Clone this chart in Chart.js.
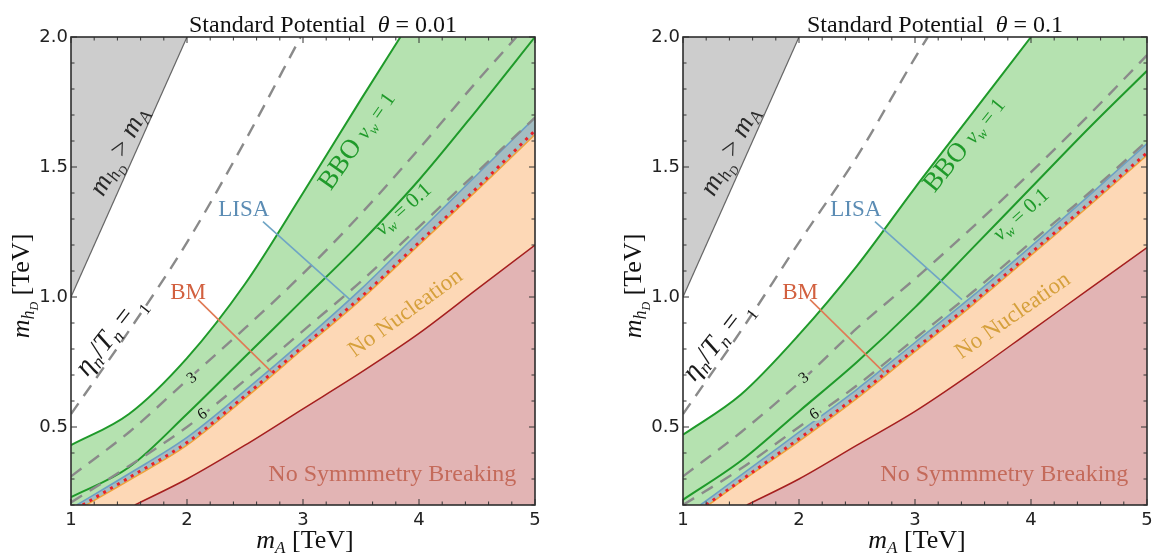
<!DOCTYPE html>
<html>
<head>
<meta charset="utf-8">
<script src="https://cdn.jsdelivr.net/npm/chart.js@4.4.1/dist/chart.umd.min.js"></script>
<style>
  html, body { margin: 0; padding: 0; background: #fff; }
  #wrap { position: relative; width: 1153px; height: 558px; }
  canvas { position: absolute; left: 0; top: 0; }
</style>
</head>
<body>
<div id="wrap">
  <canvas id="left" width="1153" height="558"></canvas>
  <canvas id="right" width="1153" height="558"></canvas>
</div>
<script>
// ---- values (m_A, m_hD in TeV) ----
const xTicks = [1, 2, 3, 4, 5];
const yTicks = [0.5, 1.0, 1.5, 2.0];
const thetas = ['0.01', '0.1'];

// m_hD = m_A boundary
const diagX = [1, 2];
const diagY = [1, 2];

// theta = 0.01
const bboFastX1 = [1, 1.5, 2, 2.5, 3, 3.5, 3.84];
const bboFastY1 = [0.43, 0.55, 0.765, 1.05, 1.40, 1.76, 2.0];
const bboSlowX1 = [1, 1.5, 2, 2.5, 3, 3.5, 4, 4.5, 5];
const bboSlowY1 = [0.23, 0.345, 0.55, 0.77, 0.99, 1.21, 1.45, 1.72, 2.0];
const eta1X1 = [1, 1.5, 2, 2.5, 2.98];
const eta1Y1 = [0.55, 0.87, 1.21, 1.6, 2.0];
const eta3X1 = [1, 1.5, 2, 2.5, 3, 3.5, 4, 4.5, 4.84];
const eta3Y1 = [0.31, 0.48, 0.68, 0.88, 1.09, 1.32, 1.57, 1.83, 2.0];
const eta6X1 = [1, 1.5, 2, 2.5, 3, 3.5, 4, 4.5, 5];
const eta6Y1 = [0.21, 0.35, 0.5, 0.68, 0.87, 1.06, 1.27, 1.48, 1.69];
const lisaX1 = [1.05, 1.5, 2, 2.5, 3, 3.5, 4, 4.5, 5];
const lisaY1 = [0.2, 0.32, 0.46, 0.64, 0.83, 1.03, 1.25, 1.47, 1.69];
const bmX1 = [1.1, 1.5, 2, 2.5, 3, 3.5, 4, 4.5, 5];
const bmY1 = [0.2, 0.305, 0.44, 0.62, 0.81, 1.0, 1.21, 1.42, 1.64];
const nucX1 = [1.13, 1.5, 2, 2.5, 3, 3.5, 4, 4.5, 5];
const nucY1 = [0.2, 0.295, 0.43, 0.61, 0.80, 0.99, 1.2, 1.41, 1.625];
const nsbX1 = [1.55, 2, 2.5, 3, 3.5, 4, 4.5, 5];
const nsbY1 = [0.2, 0.3, 0.43, 0.57, 0.71, 0.86, 1.03, 1.2];

// theta = 0.1
const bboFastX2 = [1, 1.5, 2, 2.5, 3, 3.5, 4];
const bboFastY2 = [0.47, 0.625, 0.855, 1.12, 1.42, 1.71, 2.0];
const bboSlowX2 = [1, 1.5, 2, 2.5, 3, 3.5, 4, 4.5, 5];
const bboSlowY2 = [0.22, 0.37, 0.56, 0.75, 0.96, 1.19, 1.42, 1.65, 1.87];
const eta1X2 = [1, 1.5, 2, 2.5, 3, 3.11];
const eta1Y2 = [0.55, 0.87, 1.21, 1.54, 1.92, 2.0];
const eta3X2 = [1, 1.5, 2, 2.5, 3, 3.5, 4, 4.5, 5];
const eta3Y2 = [0.31, 0.48, 0.67, 0.88, 1.07, 1.27, 1.48, 1.7, 1.93];
const eta6X2 = [1, 1.5, 2, 2.5, 3, 3.5, 4, 4.5, 5];
const eta6Y2 = [0.2, 0.34, 0.5, 0.66, 0.84, 1.02, 1.21, 1.4, 1.6];
const lisaX2 = [1.15, 1.5, 2, 2.5, 3, 3.5, 4, 4.5, 5];
const lisaY2 = [0.2, 0.315, 0.48, 0.645, 0.825, 1.005, 1.195, 1.39, 1.59];
const bmX2 = [1.2, 1.5, 2, 2.5, 3, 3.5, 4, 4.5, 5];
const bmY2 = [0.2, 0.295, 0.455, 0.62, 0.80, 0.98, 1.17, 1.36, 1.555];
const nucX2 = [1.22, 1.5, 2, 2.5, 3, 3.5, 4, 4.5, 5];
const nucY2 = [0.2, 0.29, 0.445, 0.61, 0.79, 0.97, 1.16, 1.35, 1.545];
const nsbX2 = [1.55, 2, 2.5, 3, 3.5, 4, 4.5, 5];
const nsbY2 = [0.2, 0.3, 0.43, 0.56, 0.71, 0.87, 1.03, 1.19];

// ---- styles ----
const SERIF = "'Liberation Serif', 'DejaVu Serif', serif";
const GREEN_FILL = '#b5e2b0';
const GREEN_LINE = '#1f9a2a';
const DASH_GRAY = '#8a8a8a';

function run(t, size, italic, dy) {
  return { t, f: (italic ? 'italic ' : '') + size + 'px ' + SERIF, dy: dy || 0 };
}

function curve(xs, ys) {
  return xs.map((x, i) => ({ x, y: ys[i] }));
}

function dashed(xs, ys, order) {
  return { data: curve(xs, ys), borderColor: DASH_GRAY, borderWidth: 2.4,
           borderDash: [13, 9], fill: false, order };
}

function buildDatasets(p) {
  return [
    { data: curve(p.bboFastX, p.bboFastY), borderColor: GREEN_LINE, borderWidth: 2,
      fill: 'end', backgroundColor: '#ffffff', order: 9 },
    { data: curve(diagX, diagY), borderColor: '#666', borderWidth: 1.2, tension: 0,
      cubicInterpolationMode: 'default', fill: 'end', backgroundColor: '#cdcdcd', order: 8 },
    { data: curve(p.lisaX, p.lisaY), borderColor: '#6d9fc4', borderWidth: 1.6,
      fill: 'start', backgroundColor: '#a3bdc2', order: 7 },
    { data: curve(p.nucX, p.nucY), borderColor: '#f0a23a', borderWidth: 1.5,
      fill: 'start', backgroundColor: '#fdd8b6', order: 6 },
    { data: curve(p.nsbX, p.nsbY), borderColor: '#a51f1f', borderWidth: 1.5,
      fill: 'start', backgroundColor: '#e2b4b4', order: 5 },
    dashed(p.eta1X, p.eta1Y, 4),
    dashed(p.eta3X, p.eta3Y, 4),
    dashed(p.eta6X, p.eta6Y, 3),
    { data: curve(p.bboSlowX, p.bboSlowY), borderColor: GREEN_LINE, borderWidth: 2,
      fill: false, order: 3 },
    { data: curve(p.bmX, p.bmY), borderColor: '#e8202a', borderWidth: 3,
      borderDash: [3, 5], fill: false, order: 1 }
  ];
}

// mixed-style text, centred on (px, py), rotated by angle degrees
function drawRuns(ctx, runs, px, py, angle, color, shift, halo) {
  ctx.save();
  ctx.translate(px, py);
  ctx.rotate(angle * Math.PI / 180);
  ctx.textBaseline = 'alphabetic';
  ctx.textAlign = 'left';
  let w = 0;
  runs.forEach(r => { ctx.font = r.f; w += ctx.measureText(r.t).width; });
  let cx = -w / 2;
  runs.forEach(r => {
    ctx.font = r.f;
    if (halo) {
      ctx.strokeStyle = halo; ctx.lineWidth = 5; ctx.lineJoin = 'round';
      ctx.strokeText(r.t, cx, shift + r.dy);
    }
    ctx.fillStyle = color;
    ctx.fillText(r.t, cx, shift + r.dy);
    cx += ctx.measureText(r.t).width;
  });
  ctx.restore();
}

function drawFrame(chart) {
  const { ctx, chartArea: a, scales: { x, y } } = chart;
  ctx.save();
  ctx.strokeStyle = '#333';
  ctx.lineWidth = 1;
  ctx.beginPath();
  for (let i = 0; i <= 20; i++) {
    const px = x.getPixelForValue(1 + i * 0.2);
    const len = i % 5 === 0 ? 6 : 3.5;
    ctx.moveTo(px, a.bottom); ctx.lineTo(px, a.bottom - len);
    ctx.moveTo(px, a.top); ctx.lineTo(px, a.top + len);
  }
  for (let i = 0; i <= 18; i++) {
    const py = y.getPixelForValue(0.2 + i * 0.1);
    const len = (i + 2) % 5 === 0 ? 6 : 3.5;
    ctx.moveTo(a.left, py); ctx.lineTo(a.left + len, py);
    ctx.moveTo(a.right, py); ctx.lineTo(a.right - len, py);
  }
  ctx.stroke();
  ctx.lineWidth = 1.6;
  ctx.strokeStyle = '#2e2e2e';
  ctx.strokeRect(a.left, a.top, a.width, a.height);
  ctx.restore();
}

function makeDecor(p) {
  return {
    id: 'decor',
    beforeDatasetsDraw(chart) {
      const { ctx, chartArea: a } = chart;
      ctx.save();
      ctx.fillStyle = GREEN_FILL;
      ctx.fillRect(a.left, a.top, a.width, a.height);
      ctx.restore();
    },
    afterDatasetsDraw(chart) {
      const { ctx, chartArea: a, scales: { x, y } } = chart;

      // pointer lines
      ctx.save();
      ctx.lineWidth = 1.6;
      p.pointers.forEach(l => {
        ctx.strokeStyle = l.c;
        ctx.beginPath();
        ctx.moveTo(x.getPixelForValue(l.x0), y.getPixelForValue(l.y0));
        ctx.lineTo(x.getPixelForValue(l.x1), y.getPixelForValue(l.y1));
        ctx.stroke();
      });
      ctx.restore();

      // region / curve labels
      ctx.save();
      ctx.beginPath();
      ctx.rect(a.left, a.top, a.width, a.height);
      ctx.clip();
      p.labels.forEach(l => {
        drawRuns(ctx, l.runs, x.getPixelForValue(l.x), y.getPixelForValue(l.y),
                 l.a, l.c, l.shift || 7, l.halo);
      });
      ctx.restore();

      drawFrame(chart);

      // panel title and axis titles
      drawRuns(ctx, [run('Standard Potential  ', 24), run('θ', 24, true), run(' = ' + p.theta, 24)],
               a.left + 252, 32, 0, '#111', 0);
      drawRuns(ctx, [run('m', 26, true), run('A', 17, true, 5), run(' [TeV]', 26)],
               a.left + 234, 548, 0, '#111', 0);
      drawRuns(ctx, [run('m', 26, true), run('h', 18, true, 5), run('D', 12, true, 9), run(' [TeV]', 26)],
               a.left - 42, 286, -90, '#111', 0);
    }
  };
}

function commonLabels(bbo, slow, nuc, mhd, eta) {
  return [
    { x: mhd[0], y: mhd[1], a: -62, c: '#2a2a2a',
      runs: [run('m', 27, true), run('h', 18, true, 5), run('D', 12, true, 9),
             run(' > ', 27), run('m', 27, true), run('A', 18, true, 5)] },
    { x: eta[0], y: eta[1], a: -52, c: '#1a1a1a',
      runs: [run('η', 28, true), run('n', 18, true, 5), run('/', 28), run('T', 28, true),
             run('n', 18, true, 5), run(' = ', 28), run('1', 17, false, 9)] },
    { x: 2.49, y: 1.34, a: 0, c: '#5b8cb4', runs: [run('LISA', 23)] },
    { x: 2.01, y: 1.02, a: 0, c: '#d2603f', runs: [run('BM', 23)] },
    { x: bbo[0], y: bbo[1], a: bbo[2], c: GREEN_LINE,
      runs: [run('BBO ', 27), run('v', 21, true), run('w', 14, true, 4), run(' = 1', 21)] },
    { x: slow[0], y: slow[1], a: slow[2], c: GREEN_LINE,
      runs: [run('v', 21, true), run('w', 14, true, 4), run(' = 0.1', 21)] },
    { x: nuc[0], y: nuc[1], a: nuc[2], c: '#d6a03c', runs: [run('No Nucleation', 23)] },
    { x: 3.77, y: 0.32, a: 0, c: '#c46a5a', runs: [run('No Symmmetry Breaking', 24)] },
    { x: 2.04, y: 0.69, a: -38, c: '#111', halo: GREEN_FILL, shift: 5, runs: [run('3', 16)] },
    { x: 2.13, y: 0.55, a: -33, c: '#111', halo: GREEN_FILL, shift: 5, runs: [run('6', 16)] }
  ];
}

const pointers = [
  { x0: 2.655, y0: 1.29, x1: 3.405, y1: 0.99, c: '#6fa5c5' },
  { x0: 2.095, y0: 0.99, x1: 2.733, y1: 0.71, c: '#e07a55' }
];

const panels = [
  { id: 'left', theta: thetas[0], padLeft: 0, padRight: 618,
    bboFastX: bboFastX1, bboFastY: bboFastY1, bboSlowX: bboSlowX1, bboSlowY: bboSlowY1,
    eta1X: eta1X1, eta1Y: eta1Y1, eta3X: eta3X1, eta3Y: eta3Y1, eta6X: eta6X1, eta6Y: eta6Y1,
    lisaX: lisaX1, lisaY: lisaY1, bmX: bmX1, bmY: bmY1, nucX: nucX1, nucY: nucY1,
    nsbX: nsbX1, nsbY: nsbY1, pointers,
    labels: commonLabels([3.47, 1.60, -55], [3.86, 1.34, -42], [3.88, 0.94, -36],
                         [1.42, 1.56], [1.34, 0.85]) },
  { id: 'right', theta: thetas[1], padLeft: 612, padRight: 6,
    bboFastX: bboFastX2, bboFastY: bboFastY2, bboSlowX: bboSlowX2, bboSlowY: bboSlowY2,
    eta1X: eta1X2, eta1Y: eta1Y2, eta3X: eta3X2, eta3Y: eta3Y2, eta6X: eta6X2, eta6Y: eta6Y2,
    lisaX: lisaX2, lisaY: lisaY2, bmX: bmX2, bmY: bmY2, nucX: nucX2, nucY: nucY2,
    nsbX: nsbX2, nsbY: nsbY2, pointers,
    labels: commonLabels([3.43, 1.585, -51], [3.91, 1.32, -42], [3.84, 0.93, -35],
                         [1.41, 1.56], [1.30, 0.83]) }
];

const TICK_FONT = { family: "'DejaVu Sans', 'Liberation Sans', sans-serif", size: 18 };

panels.forEach(p => {
  new Chart(document.getElementById(p.id), {
    type: 'line',
    data: { datasets: buildDatasets(p) },
    options: {
      responsive: false,
      animation: false,
      layout: { padding: { left: p.padLeft, right: p.padRight, top: 37, bottom: 0 } },
      elements: { point: { radius: 0 }, line: { cubicInterpolationMode: 'monotone' } },
      plugins: { legend: { display: false }, tooltip: { enabled: false } },
      scales: {
        x: {
          type: 'linear', min: 1, max: 5,
          grid: { display: false, drawTicks: false }, border: { display: false },
          afterBuildTicks: s => { s.ticks = xTicks.map(v => ({ value: v })); },
          afterFit: s => { s.height = 53; s.paddingLeft = 0; s.paddingRight = 0; },
          ticks: { font: TICK_FONT, color: '#222', padding: 5, maxRotation: 0,
                   autoSkip: false, callback: v => String(v) }
        },
        y: {
          type: 'linear', min: 0.2, max: 2.0,
          grid: { display: false, drawTicks: false }, border: { display: false },
          afterBuildTicks: s => { s.ticks = yTicks.map(v => ({ value: v })); },
          afterFit: s => { s.width = 71; s.paddingTop = 0; s.paddingBottom = 0; },
          ticks: { font: TICK_FONT, color: '#222', padding: 3, autoSkip: false,
                   callback: v => v.toFixed(1) }
        }
      }
    },
    plugins: [makeDecor(p)]
  });
});
</script>
</body>
</html>
